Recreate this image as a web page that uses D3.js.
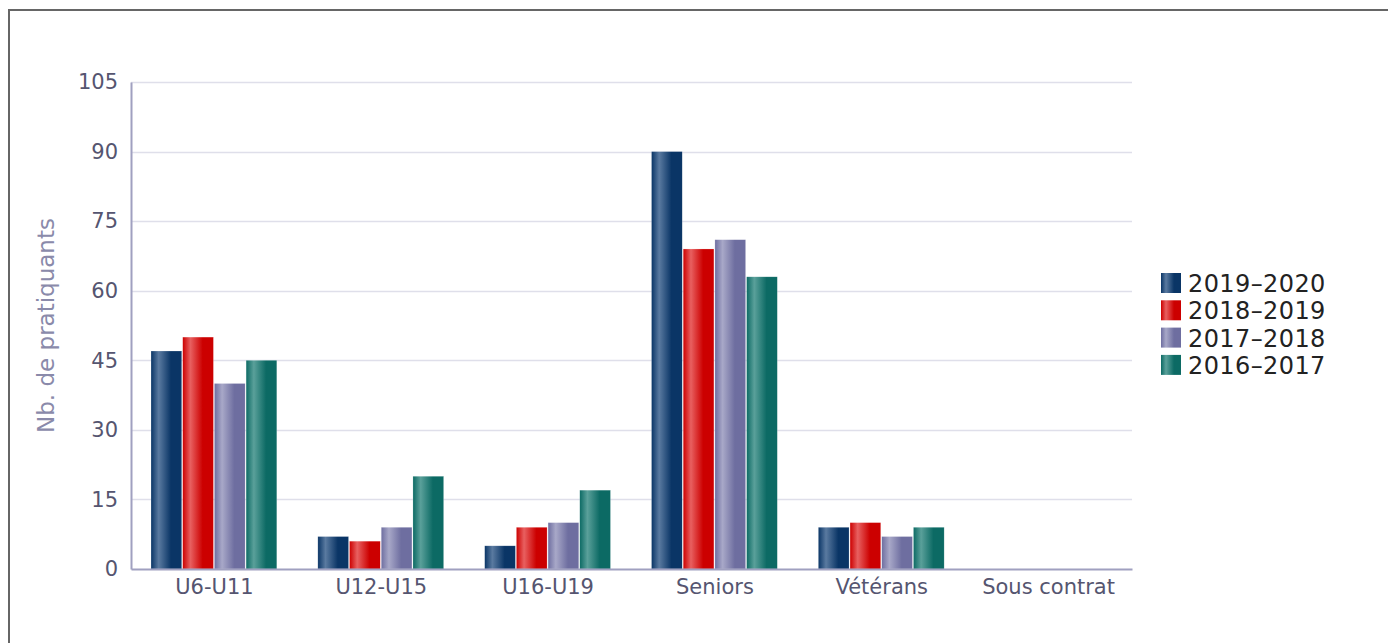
<!DOCTYPE html>
<html>
<head>
<meta charset="utf-8">
<script src="https://cdn.jsdelivr.net/npm/d3@7/dist/d3.min.js"></script>
<style>
  body { margin: 0; background: #fff; }
  svg { font-family: "DejaVu Sans", sans-serif; }
</style>
</head>
<body>
<div id="chart"></div>
<script>
var categories = ["U6-U11", "U12-U15", "U16-U19", "Seniors", "Vétérans", "Sous contrat"];
var seasons = ["2019-2020", "2018-2019", "2017-2018", "2016-2017"];
var s2019 = [47, 7, 5, 90, 9, 0];
var s2018 = [50, 6, 9, 69, 10, 0];
var s2017 = [40, 9, 10, 71, 7, 0];
var s2016 = [45, 20, 17, 63, 9, 0];
var yTicks = [0, 15, 30, 45, 60, 75, 90, 105];

var width = 1388, height = 643;
var margin = { top: 82, bottom: 74, left: 131, right: 256 };

var svg = d3.select("#chart").append("svg")
  .attr("width", width)
  .attr("height", height);

// bar gradients
var palette = [
  { light: "#5a7aa0", dark: "#0a3566" },
  { light: "#e86060", dark: "#cc0000" },
  { light: "#a8a8c8", dark: "#6e6ea0" },
  { light: "#5aa09a", dark: "#0c6a64" }
];
var defs = svg.append("defs");
palette.forEach(function(c, i) {
  var g = defs.append("linearGradient").attr("id", "grad" + i)
    .attr("x1", 0).attr("x2", 1).attr("y1", 0).attr("y2", 0);
  g.append("stop").attr("offset", "0%").attr("stop-color", c.dark);
  g.append("stop").attr("offset", "25%").attr("stop-color", c.light);
  g.append("stop").attr("offset", "65%").attr("stop-color", c.dark);
  g.append("stop").attr("offset", "100%").attr("stop-color", c.dark);
});

// frame
svg.append("rect")
  .attr("x", 9).attr("y", 10)
  .attr("width", 1400).attr("height", 700)
  .attr("fill", "none")
  .attr("stroke", "#666")
  .attr("stroke-width", 2);

var x0 = d3.scaleBand()
  .domain(categories)
  .range([margin.left, width - margin.right])
  .paddingInner(0.24)
  .paddingOuter(0.12);

var x1 = d3.scaleBand()
  .domain(seasons)
  .range([0, x0.bandwidth()]);

var y = d3.scaleLinear()
  .domain([0, 105])
  .range([height - margin.bottom, margin.top]);

// grid
svg.append("g").selectAll("line")
  .data(yTicks.slice(1))
  .enter().append("line")
  .attr("x1", margin.left).attr("x2", width - margin.right)
  .attr("y1", d => Math.round(y(d)) + 0.5)
  .attr("y2", d => Math.round(y(d)) + 0.5)
  .attr("stroke", "#dfdfea")
  .attr("stroke-width", 1.5);

var series = [s2019, s2018, s2017, s2016];
var rows = [];
categories.forEach(function(c, ci) {
  seasons.forEach(function(s, si) {
    rows.push({ cat: c, season: s, si: si, value: series[si][ci] });
  });
});

svg.append("g").selectAll("rect")
  .data(rows.filter(d => d.value > 0))
  .enter().append("rect")
  .attr("x", d => x0(d.cat) + x1(d.season))
  .attr("y", d => y(d.value))
  .attr("width", x1.bandwidth() - 1)
  .attr("height", d => y(0) - y(d.value))
  .attr("fill", d => "url(#grad" + d.si + ")")
  .attr("stroke", "#fff")
  .attr("stroke-opacity", 0.4)
  .attr("stroke-width", 0.5);

// y axis
var yAxis = svg.append("g")
  .attr("transform", "translate(" + margin.left + ",0)")
  .call(d3.axisLeft(y).tickValues(yTicks).tickSize(0).tickPadding(13));
yAxis.select(".domain").attr("stroke", "#a0a0c0").attr("stroke-width", 2);
yAxis.selectAll("text")
  .attr("fill", "#555570")
  .attr("font-size", "21px")
  .attr("font-family", "DejaVu Sans, sans-serif");

// x axis
var xAxis = svg.append("g")
  .attr("transform", "translate(0," + (height - margin.bottom) + ")")
  .call(d3.axisBottom(x0).tickSize(0).tickPadding(10).tickSizeOuter(0));
xAxis.select(".domain").attr("stroke", "#a0a0c0").attr("stroke-width", 2);
xAxis.selectAll("text")
  .attr("fill", "#555570")
  .attr("font-size", "21px")
  .attr("font-family", "DejaVu Sans, sans-serif");

// axis title
svg.append("text")
  .attr("transform", "translate(54," + ((margin.top + height - margin.bottom) / 2) + ") rotate(-90)")
  .attr("text-anchor", "middle")
  .attr("fill", "#8a8aaa")
  .attr("font-size", "23px")
  .text("Nb. de pratiquants");

// legend
var legend = svg.append("g").attr("transform", "translate(1161,273)");
var item = legend.selectAll("g")
  .data(seasons)
  .enter().append("g")
  .attr("transform", (d, i) => "translate(0," + (i * 27.3) + ")");
item.append("rect")
  .attr("width", 20).attr("height", 20)
  .attr("fill", (d, i) => "url(#grad" + i + ")");
item.append("text")
  .attr("x", 27).attr("y", 19)
  .attr("fill", "#222")
  .attr("font-size", "24px")
  .attr("letter-spacing", "0.4px")
  .text(d => d.replace("-", "\u2013"));
</script>
</body>
</html>
